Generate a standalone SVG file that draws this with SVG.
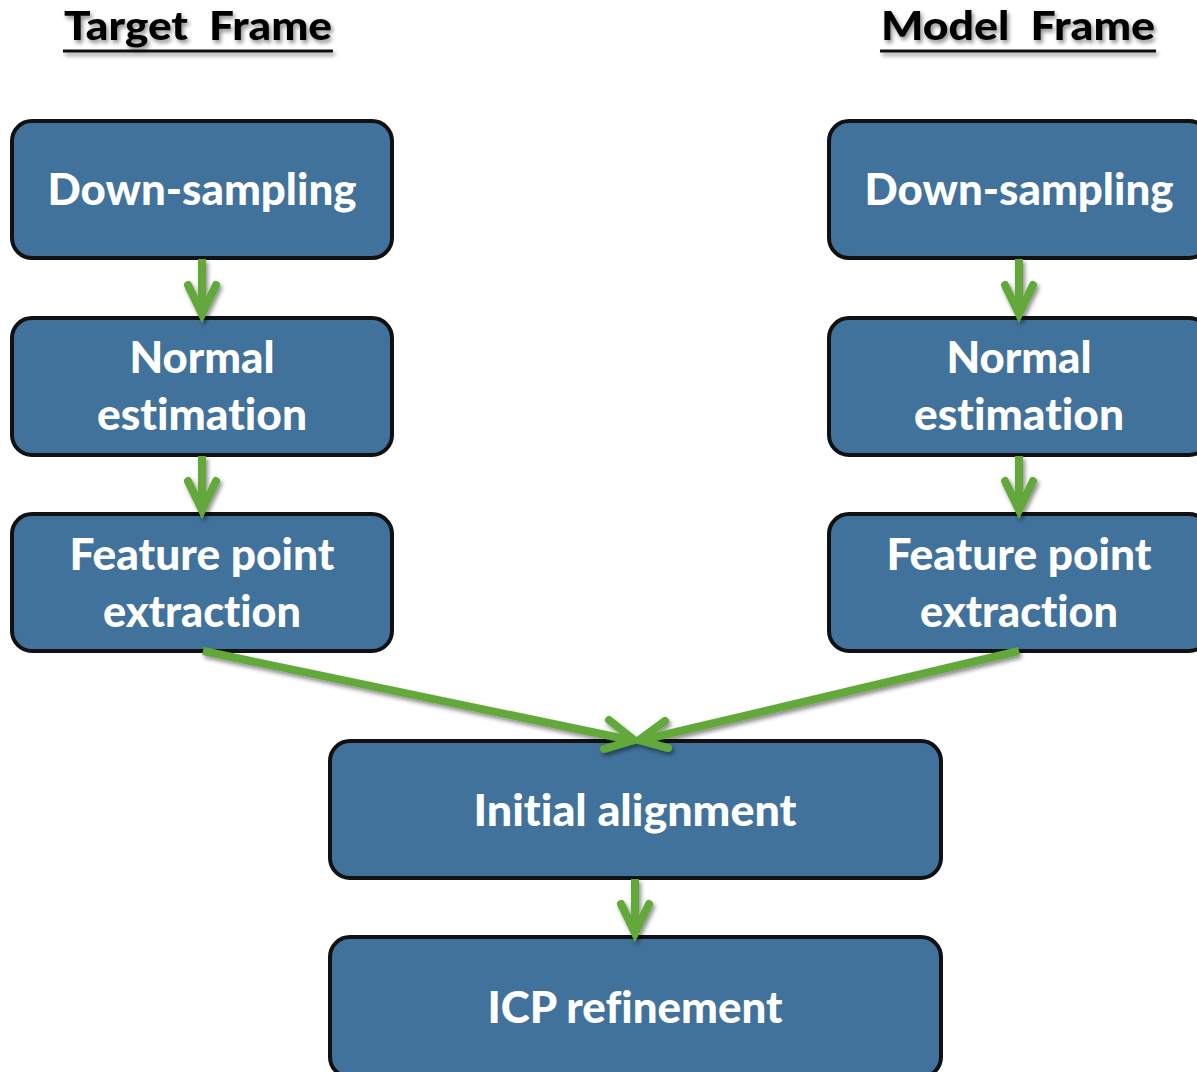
<svg xmlns="http://www.w3.org/2000/svg" width="1197" height="1072" viewBox="0 0 1197 1072">
<style>
.box{fill:#41729b;stroke:#111;stroke-width:4}
.lbl{font-family:Lato,"Open Sans","Liberation Sans",sans-serif;font-weight:900;font-size:43px;fill:#fff;text-anchor:middle;font-variant-ligatures:none}
.title{font-family:Lato,"Open Sans","Liberation Sans",sans-serif;font-weight:900;font-size:40px;fill:#000;white-space:pre;font-variant-ligatures:none}
.ul{stroke:#111;stroke-width:3}
.conn{stroke:#62a83a;stroke-width:8;fill:none;stroke-linecap:butt}
.head{stroke:#62a83a;stroke-width:8;fill:none;stroke-linecap:round;stroke-linejoin:miter}
</style>
<defs>
<filter id="sh" x="-20%" y="-20%" width="140%" height="140%">
<feDropShadow dx="2" dy="3" stdDeviation="2" flood-color="#000" flood-opacity="0.45"/>
</filter>
</defs>
<g id="title-target" filter="url(#sh)">
<text class="title" x="64" y="40" textLength="268" lengthAdjust="spacingAndGlyphs" xml:space="preserve">Target  Frame</text>
<line class="ul" x1="63" y1="51" x2="333" y2="51"/>
</g>
<g id="title-model" filter="url(#sh)">
<text class="title" x="881" y="40" textLength="274" lengthAdjust="spacingAndGlyphs" xml:space="preserve">Model  Frame</text>
<line class="ul" x1="880" y1="51" x2="1156" y2="51"/>
</g>
<g id="t-down"><rect class="box" x="12" y="121" width="380" height="137" rx="20"/><text class="lbl" x="202" y="205" textLength="309" lengthAdjust="spacingAndGlyphs">Down-sampling</text></g>
<g id="t-normal"><rect class="box" x="12" y="318" width="380" height="137" rx="20"/><text class="lbl" x="202" y="373" textLength="145" lengthAdjust="spacingAndGlyphs">Normal</text><text class="lbl" x="202" y="430" textLength="210" lengthAdjust="spacingAndGlyphs">estimation</text></g>
<g id="t-feature"><rect class="box" x="12" y="514" width="380" height="137" rx="20"/><text class="lbl" x="202" y="570" textLength="265" lengthAdjust="spacingAndGlyphs">Feature point</text><text class="lbl" x="202" y="627" textLength="198" lengthAdjust="spacingAndGlyphs">extraction</text></g>
<g id="m-down"><rect class="box" x="829" y="121" width="380" height="137" rx="20"/><text class="lbl" x="1019" y="205" textLength="309" lengthAdjust="spacingAndGlyphs">Down-sampling</text></g>
<g id="m-normal"><rect class="box" x="829" y="318" width="380" height="137" rx="20"/><text class="lbl" x="1019" y="373" textLength="145" lengthAdjust="spacingAndGlyphs">Normal</text><text class="lbl" x="1019" y="430" textLength="210" lengthAdjust="spacingAndGlyphs">estimation</text></g>
<g id="m-feature"><rect class="box" x="829" y="514" width="380" height="137" rx="20"/><text class="lbl" x="1019" y="570" textLength="265" lengthAdjust="spacingAndGlyphs">Feature point</text><text class="lbl" x="1019" y="627" textLength="198" lengthAdjust="spacingAndGlyphs">extraction</text></g>
<g id="initial"><rect class="box" x="330" y="741" width="611" height="137" rx="20"/><text class="lbl" x="635" y="826" textLength="323" lengthAdjust="spacingAndGlyphs">Initial alignment</text></g>
<g id="icp"><rect class="box" x="330" y="937" width="611" height="140" rx="20"/><text class="lbl" x="635" y="1023" textLength="295" lengthAdjust="spacingAndGlyphs">ICP refinement</text></g>
<g id="connectors" filter="url(#sh)">
<line class="conn" x1="202" y1="259" x2="202" y2="313"/>
<polyline class="head" points="188,285 202,314 216,285"/>
<line class="conn" x1="202" y1="456" x2="202" y2="509"/>
<polyline class="head" points="188,481 202,510 216,481"/>
<line class="conn" x1="1019" y1="259" x2="1019" y2="313"/>
<polyline class="head" points="1005,285 1019,314 1033,285"/>
<line class="conn" x1="1019" y1="456" x2="1019" y2="509"/>
<polyline class="head" points="1005,481 1019,510 1033,481"/>
<line class="conn" x1="635" y1="879" x2="635" y2="932"/>
<polyline class="head" points="621,904 635,933 649,904"/>
<line class="conn" x1="203" y1="651" x2="630" y2="740"/>
<polyline class="head" points="609,720 634,740 604,749"/>
<line class="conn" x1="1019" y1="651" x2="642" y2="740"/>
<polyline class="head" points="665,721 639,740 668,748"/>
</g>
</svg>
